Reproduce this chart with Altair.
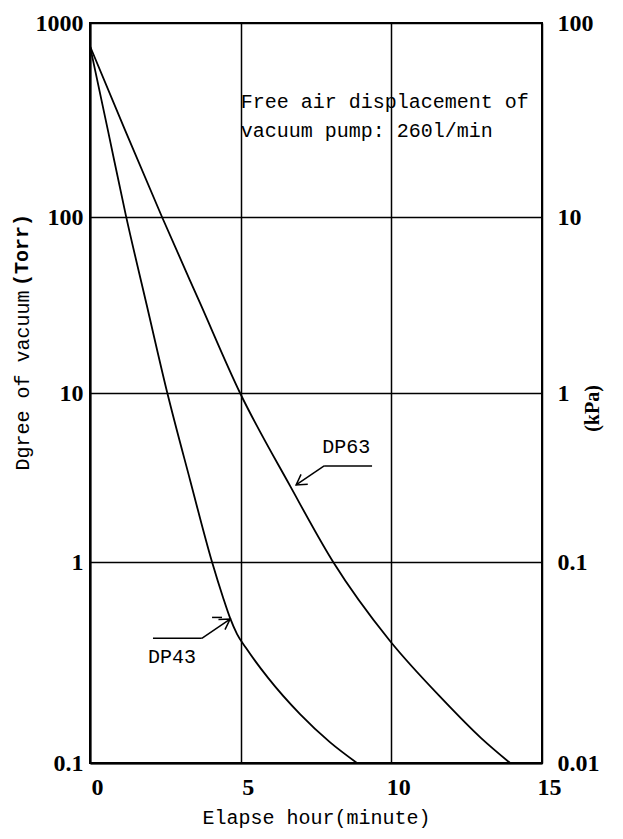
import altair as alt
import pandas as pd

# ---- data ----
dp43_t = [0, 0.60, 1.19, 1.89, 2.56, 3.32, 4.05, 4.41, 4.65, 4.88, 5.18, 5.91, 6.97, 7.96, 8.86]
dp43_v = [760, 277, 102, 31.2, 10.1, 3.06, 1.0, 0.67, 0.526, 0.438, 0.373, 0.265, 0.175,
          0.127, 0.1]
dp63_t = [0, 1.16, 2.39, 3.65, 4.98, 6.64, 8.07, 9.93, 11.72, 12.98, 13.94]
dp63_v = [760, 281, 100, 32.5, 10, 2.82, 1.0, 0.409, 0.206, 0.133, 0.1]

x_ticks = [0, 5, 10, 15]
y_ticks = [0.1, 1, 10, 100, 1000]
# the printed chart's decades are not evenly spaced; these are their positions (px from top)
y_decade_pos = [740, 539, 370, 194, 0]

note_lines = ["Free air displacement of", "vacuum pump: 260l/min"]
series_labels = ["DP63", "DP43"]
label_x = [8.5, 2.72]
label_y = [4.79, 0.337]

# leader lines: x, y, x2, y2
lead_x = [7.77, 7.77, 2.09, 3.71, 4.05]
lead_y = [3.7, 3.7, 0.417, 0.417, 0.53]
lead_x2 = [9.36, 6.84, 3.71, 4.65, 4.38]
lead_y2 = [3.7, 2.86, 0.417, 0.52, 0.53]
arrow_t = [6.84, 4.65]
arrow_v = [2.86, 0.52]
arrow_ang = [146, 327]

W, H = 452, 740
SERIF = "Liberation Serif"
MONO = "Liberation Mono"

curves = pd.DataFrame({
    "t": dp43_t + dp63_t,
    "v": dp43_v + dp63_v,
    "s": ["DP43"] * len(dp43_t) + ["DP63"] * len(dp63_t),
})

xscale = alt.Scale(domain=[0, 15], nice=False, zero=False)
yscale = alt.Scale(type="log", domain=y_ticks, range=y_decade_pos, nice=False)

xaxis = alt.Axis(values=x_ticks, grid=True, gridColor="black", gridWidth=1.5, gridOpacity=1,
                 domainColor="black", domainWidth=2, ticks=False, labelFont=SERIF,
                 labelFontWeight="bold", labelFontSize=24, labelColor="black", labelPadding=12,
                 labelOffset=7, labelFlush=False, labelOverlap=False,
                 title="Elapse hour(minute)", titleFont=MONO, titleFontSize=20,
                 titleFontWeight="normal", titleColor="black", titleY=54, titleBaseline="middle")

left_expr = "datum.value < 1 ? '0.1' : format(datum.value, 'd')"
yaxis_left = alt.Axis(values=y_ticks, grid=True, gridColor="black", gridWidth=1.5, gridOpacity=1,
                      domainColor="black", domainWidth=2, ticks=False, labelFont=SERIF,
                      labelFontWeight="bold", labelFontSize=24, labelColor="black",
                      labelPadding=7, labelFlush=False, labelOverlap=False, labelExpr=left_expr,
                      title="Dgree of vacuum", titleFont=MONO, titleFontSize=20,
                      titleFontWeight="normal", titleColor="black", titleAngle=270,
                      titleX=-68, titleY=357, titleAlign="center", titleBaseline="middle")

right_expr = ("datum.value < 1 ? '0.01' : datum.value < 10 ? '0.1' : "
              "format(datum.value / 10, 'd')")
yaxis_right = alt.Axis(orient="right", values=y_ticks, grid=False, domain=False, ticks=False,
                       labelFont=SERIF, labelFontWeight="bold", labelFontSize=24,
                       labelColor="black", labelPadding=15, labelFlush=False,
                       labelOverlap=False, labelExpr=right_expr, labelAlign="left",
                       title="(kPa)", titleFont=SERIF, titleFontSize=20, titleFontWeight="bold",
                       titleColor="black", titleAngle=270, titleX=50, titleY=385,
                       titleAlign="center", titleBaseline="middle")


def X(field, axis=None):
    return alt.X(field, scale=xscale, axis=axis)


def Y(field, axis=None):
    return alt.Y(field, scale=yscale, axis=axis)


lines = alt.Chart(curves).mark_line(color="black", strokeWidth=1.8, interpolate="monotone").encode(
    x=X("t:Q", xaxis), y=Y("v:Q", yaxis_left), detail="s:N")

right_axis_layer = alt.Chart(curves).mark_point(opacity=0).encode(
    x=X("t:Q"), y=Y("v:Q", yaxis_right))

note_df = pd.DataFrame({"t": [5.0], "v": [392], "txt": [note_lines]})
note = alt.Chart(note_df).mark_text(font=MONO, fontSize=20, align="left", baseline="middle",
                                    dx=0, lineHeight=29, color="black").encode(
    x=X("t:Q"), y=Y("v:Q"), text="txt")

lab_df = pd.DataFrame({"t": label_x, "v": label_y, "txt": series_labels})
labels = alt.Chart(lab_df).mark_text(font=MONO, fontSize=20, align="center",
                                     baseline="middle", color="black").encode(
    x=X("t:Q"), y=Y("v:Q"), text="txt")

lead_df = pd.DataFrame({"x": lead_x, "y": lead_y, "x2": lead_x2, "y2": lead_y2})
leads = alt.Chart(lead_df).mark_rule(color="black", strokeWidth=1.5).encode(
    x=X("x:Q"), y=Y("y:Q"), x2="x2:Q", y2="y2:Q")

arrow_df = pd.DataFrame({"t": arrow_t, "v": arrow_v, "ang": arrow_ang})
arrows = alt.Chart(arrow_df).mark_point(
    shape="M -1 -0.6 L 0 0 L -1 0.6", filled=False, size=400, color="black",
    strokeWidth=1.5, opacity=1).encode(
    x=X("t:Q"), y=Y("v:Q"), angle=alt.Angle("ang:Q", scale=None))

torr = alt.Chart(pd.DataFrame({"txt": ["(Torr)"]})).mark_text(
    font=MONO, fontSize=20, fontWeight="bold", angle=270, align="center", baseline="middle",
    color="black").encode(x=alt.value(-68), y=alt.value(227), text="txt")

chart = alt.layer(lines, right_axis_layer, note, labels, leads, arrows, torr).resolve_axis(
    x="independent", y="independent"
).properties(
    width=W, height=H,
    autosize=alt.AutoSizeParams(type="none"),
    padding={"left": 82, "top": 15, "right": 70, "bottom": 68},
    background="white",
).configure_view(stroke="black", strokeWidth=2)

chart.save("out.html", embed_options={"renderer": "svg", "actions": False})
